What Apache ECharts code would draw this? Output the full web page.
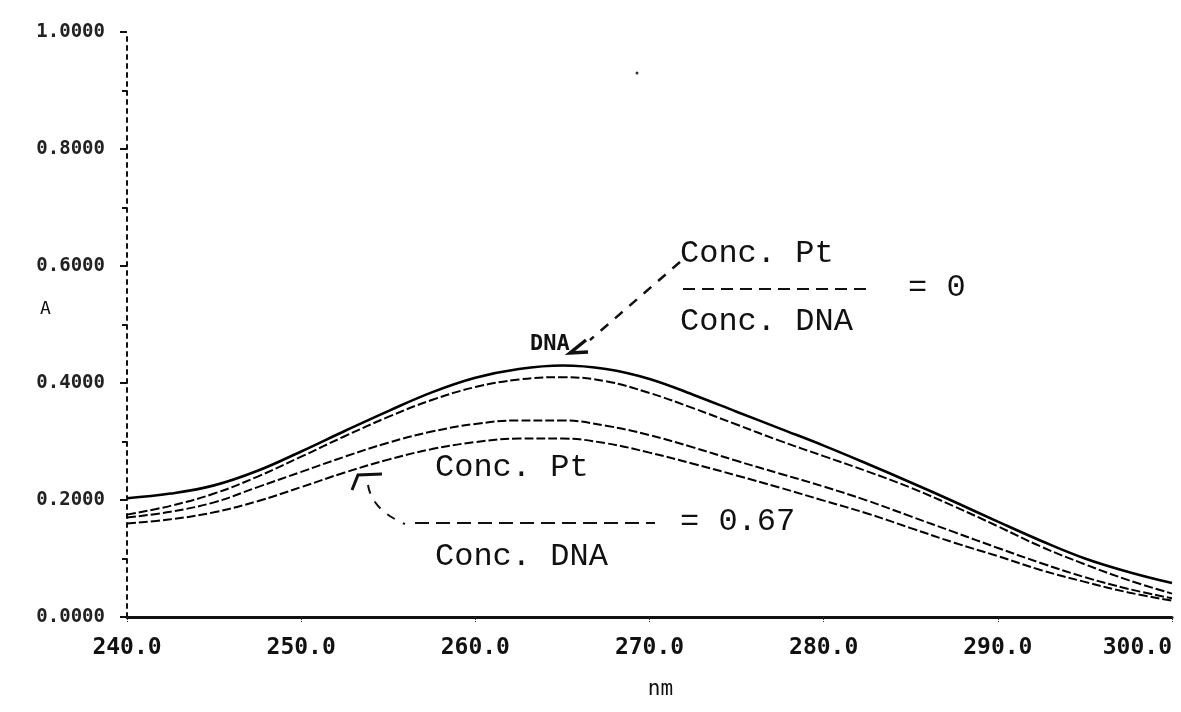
<!DOCTYPE html>
<html>
<head>
<meta charset="utf-8">
<script src="https://cdn.jsdelivr.net/npm/echarts@6/dist/echarts.min.js"></script>
<style>
  html, body { margin: 0; padding: 0; background: #fff; }
  #chart { width: 1181px; height: 712px; }
</style>
</head>
<body>
<div id="chart"></div>
<script>
// wavelength grid (nm) and absorbance of each scan
let wavelengths = [240, 242.5, 245, 247.5, 250, 252.5, 255, 257.5, 260, 262.5, 265, 267.5, 270,
    272.5, 275, 277.5, 280, 282.5, 285, 287.5, 290, 292.5, 295, 297.5, 300]

// ratio 0 (DNA alone)
let absDNA = [0.203, 0.211, 0.225, 0.25, 0.283, 0.318, 0.352, 0.384, 0.409, 0.424, 0.43, 0.424, 0.407,
    0.38, 0.351, 0.322, 0.293, 0.262, 0.23, 0.197, 0.163, 0.13, 0.1, 0.077, 0.058]
let absR1 = [0.175, 0.19, 0.211, 0.24, 0.274, 0.309, 0.342, 0.371, 0.393, 0.406, 0.41, 0.403, 0.383,
    0.357, 0.329, 0.301, 0.275, 0.249, 0.221, 0.189, 0.155, 0.12, 0.09, 0.063, 0.04]
let absR2 = [0.17, 0.18, 0.196, 0.222, 0.248, 0.274, 0.298, 0.317, 0.33, 0.336, 0.336, 0.327, 0.311,
    0.29, 0.267, 0.245, 0.223, 0.199, 0.172, 0.145, 0.118, 0.092, 0.068, 0.048, 0.032]
// ratio 0.67
let absR3 = [0.16, 0.167, 0.179, 0.198, 0.222, 0.247, 0.269, 0.287, 0.299, 0.305, 0.305, 0.297, 0.281,
    0.262, 0.242, 0.221, 0.199, 0.177, 0.152, 0.127, 0.104, 0.08, 0.06, 0.042, 0.028]

let scans = [absDNA, absR1, absR2, absR3]
let dashes = ['solid', [9, 3], [9, 3], [9, 3]]

function pairs(ys) {
    return wavelengths.map(function(x, i) { return [x, ys[i]] })
}

let tickFont = 'DejaVu Sans Mono'
let noteFont = 'Liberation Mono'

let chart = echarts.init(document.getElementById('chart'))

let option = {
    animation: false,
    backgroundColor: '#fff',
    grid: { left: 127, right: 9, top: 32, bottom: 95, outerBoundsMode: 'none' },
    xAxis: {
        type: 'value',
        min: 240,
        max: 300,
        interval: 10,
        name: 'nm',
        nameLocation: 'middle',
        nameGap: 62,
        nameTextStyle: { fontFamily: tickFont, fontSize: 21, color: '#111', padding: [0, 0, 0, 22] },
        axisLine: { lineStyle: { color: '#111', width: 3 } },
        axisTick: { show: true, length: 5, lineStyle: { color: '#333', type: 'dotted' } },
        axisLabel: {
            fontFamily: tickFont, fontSize: 23, fontWeight: 'bold', color: '#111', margin: 20,
            alignMaxLabel: 'right',
            formatter: function(v) { return v.toFixed(1) }
        },
        splitLine: { show: false }
    },
    yAxis: {
        type: 'value',
        min: 0,
        max: 1,
        interval: 0.2,
        axisLine: { lineStyle: { color: '#111', width: 2, type: [4, 5] } },
        axisTick: { show: true, length: 7, lineStyle: { color: '#111', width: 2 } },
        minorTick: { show: true, splitNumber: 2, length: 5, lineStyle: { color: '#111', width: 2 } },
        axisLabel: {
            fontFamily: tickFont, fontSize: 19, fontWeight: 'bold', color: '#222', margin: 22,
            formatter: function(v) { return v.toFixed(4) }
        },
        splitLine: { show: false }
    },
    series: scans.map(function(ys, i) {
        return {
            type: 'line',
            data: pairs(ys),
            smooth: 0.4,
            showSymbol: false,
            lineStyle: { color: '#000', width: i === 0 ? 2.6 : 2, type: dashes[i] }
        }
    }),
    graphic: [
        // y axis name
        { type: 'text', left: 40, top: 300, style: { text: 'A', font: '18px ' + tickFont, fill: '#111' } },
        // upper annotation (ratio 0)
        { type: 'text', left: 680, top: 238, style: { text: 'Conc. Pt', font: '32px ' + noteFont, fill: '#111' } },
        { type: 'line', shape: { x1: 683, y1: 289, x2: 872, y2: 289 }, style: { stroke: '#111', lineWidth: 2, lineDash: [12, 7] } },
        { type: 'text', left: 908, top: 272, style: { text: '= 0', font: '32px ' + noteFont, fill: '#111' } },
        { type: 'text', left: 680, top: 306, style: { text: 'Conc. DNA', font: '32px ' + noteFont, fill: '#111' } },
        { type: 'line', shape: { x1: 680, y1: 262, x2: 590, y2: 340 }, style: { stroke: '#111', lineWidth: 2.5, lineDash: [10, 9] } },
        { type: 'text', left: 530, top: 333, style: { text: 'DNA', font: 'bold 22px ' + tickFont, fill: '#111' } },
        { type: 'polyline', shape: { points: [[586, 340], [570, 353], [588, 352]] }, style: { stroke: '#111', lineWidth: 3.5, fill: null } },
        // lower annotation (ratio 0.67)
        { type: 'text', left: 435, top: 452, style: { text: 'Conc. Pt', font: '32px ' + noteFont, fill: '#111' } },
        { type: 'line', shape: { x1: 415, y1: 523, x2: 655, y2: 523 }, style: { stroke: '#111', lineWidth: 2, lineDash: [14, 7] } },
        { type: 'text', left: 680, top: 506, style: { text: '= 0.67', font: '32px ' + noteFont, fill: '#111' } },
        { type: 'text', left: 435, top: 541, style: { text: 'Conc. DNA', font: '32px ' + noteFont, fill: '#111' } },
        { type: 'polyline', shape: { points: [[352, 490], [358, 475], [382, 474]] }, style: { stroke: '#111', lineWidth: 3, fill: null } },
        { type: 'bezierCurve', shape: { x1: 368, y1: 485, x2: 405, y2: 524, cpx1: 372, cpy1: 510 }, style: { stroke: '#111', lineWidth: 2, lineDash: [9, 9], fill: null } },
        // stray speck on the scan
        { type: 'circle', shape: { cx: 637, cy: 73, r: 1.5 }, style: { fill: '#333' } }
    ]
}

chart.setOption(option)
</script>
</body>
</html>
